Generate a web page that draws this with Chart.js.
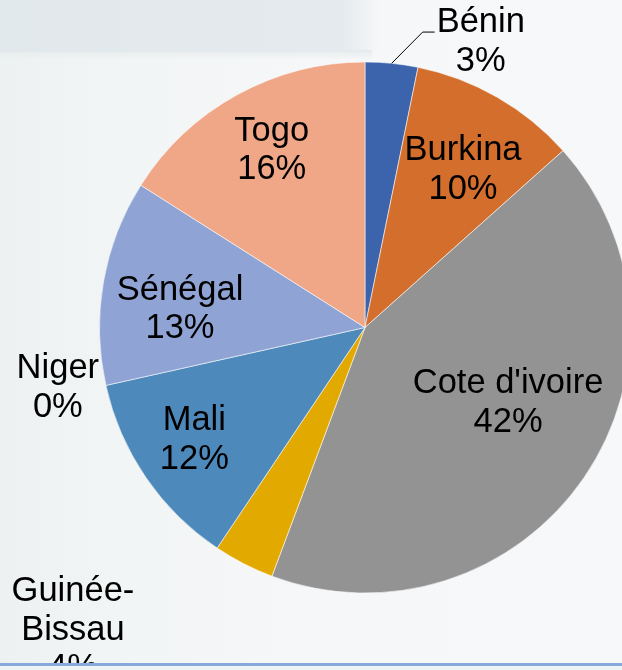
<!DOCTYPE html>
<html>
<head>
<meta charset="utf-8">
<script src="https://cdn.jsdelivr.net/npm/chart.js@4/dist/chart.umd.min.js"></script>
<style>
  html, body { margin: 0; padding: 0; }
  body {
    width: 622px; height: 670px; overflow: hidden; position: relative;
    background:
      linear-gradient(to right, rgba(226,233,236,1) 0px, rgba(228,234,237,1) 340px, rgba(236,240,242,0) 380px) 0 0 / 622px 52px no-repeat,
      linear-gradient(to bottom, #e6ecee 0px, rgba(240,243,244,0) 10px) 0 50px / 372px 12px no-repeat,
      linear-gradient(to right, #edf1f1 0px, #f2f5f5 120px, #f6f7f8 300px, #f7f8f9 622px);
  }
  #wrap { position: absolute; left: 0; top: 0; width: 730px; height: 670px; }
  #strip { position: absolute; left: 0; top: 663px; width: 622px; height: 3px; background: #87a9dc; z-index: 5; }
  #below { position: absolute; left: 0; top: 666px; width: 622px; height: 4px; background: #eef3f8; z-index: 5; }
</style>
</head>
<body>
<div id="wrap"><canvas id="c" width="730" height="670"></canvas></div>
<div id="strip"></div>
<div id="below"></div>
<script>
// ---- data ----
const categories = ["Bénin", "Burkina", "Cote d'ivoire", "Guinée-\nBissau", "Mali", "Niger", "Sénégal", "Togo"];
const shares = [3.2, 10.2, 42.3, 3.7, 12.1, 0, 12.5, 16.0];
const sliceColors = ["#3c64ac", "#d46e2c", "#939393", "#e2aa00", "#4e89bc", "#629a41", "#8fa4d4", "#f0a788"];

// label placement relative to each slice (angle offset in degrees, distance as fraction of radius)
const labelPlacement = [
  { dAngle: 16.3, f: 1.161, leader: true },
  { dAngle: 2.0, f: 0.699 },
  { dAngle: -6.6, f: 0.609 },
  { dAngle: 16.8, f: 1.584 },
  { dAngle: 1.0, f: 0.770 },
  { dAngle: 1.5, f: 1.179 },
  { dAngle: -4.4, f: 0.700 },
  { dAngle: 1.0, f: 0.753 }
];

const FONT = "34.5px 'Liberation Sans', Arial, sans-serif";
const LINE_H = 38.5;

const labelPlugin = {
  id: 'pieLabels',
  afterDatasetsDraw(chart) {
    const ctx = chart.ctx;
    const meta = chart.getDatasetMeta(0);
    const data = chart.data.datasets[0].data;
    const total = data.reduce((a, b) => a + b, 0);
    ctx.save();
    ctx.font = FONT;
    ctx.fillStyle = '#000';
    ctx.textAlign = 'center';
    ctx.textBaseline = 'middle';
    meta.data.forEach((arc, i) => {
      const p = arc.getProps(['x', 'y', 'startAngle', 'endAngle', 'outerRadius'], true);
      const mid = (p.startAngle + p.endAngle) / 2;
      const pl = labelPlacement[i];
      const a = mid + pl.dAngle * Math.PI / 180;
      const d = pl.f * p.outerRadius;
      const lx = p.x + d * Math.cos(a);
      const ly = p.y + d * Math.sin(a);
      const pct = Math.round(data[i] / total * 100) + '%';
      const lines = chart.data.labels[i].split('\n').concat([pct]);
      const y0 = ly - (lines.length - 1) * LINE_H / 2;
      lines.forEach((t, k) => ctx.fillText(t, lx, y0 + k * LINE_H));
      if (pl.leader) {
        const w = ctx.measureText(lines[0]).width;
        const hy = y0 + 9.5;
        const hx1 = lx - w / 2 - 2;
        const hx0 = hx1 - 12;
        const ex = p.x + p.outerRadius * Math.cos(mid);
        const ey = p.y + p.outerRadius * Math.sin(mid);
        ctx.beginPath();
        ctx.strokeStyle = '#000';
        ctx.lineWidth = 1;
        ctx.moveTo(ex, ey);
        ctx.lineTo(hx0, hy);
        ctx.lineTo(hx1, hy);
        ctx.stroke();
      }
    });
    ctx.restore();
  }
};

new Chart(document.getElementById('c'), {
  type: 'pie',
  data: {
    labels: categories,
    datasets: [{
      data: shares,
      backgroundColor: sliceColors,
      borderColor: 'rgba(255,255,255,0.55)',
      borderWidth: 1
    }]
  },
  options: {
    responsive: false,
    animation: false,
    layout: { padding: { left: 99, right: 99, top: 61.5, bottom: 76.5 } },
    plugins: { legend: { display: false }, tooltip: { enabled: false } }
  },
  plugins: [labelPlugin]
});
</script>
</body>
</html>
